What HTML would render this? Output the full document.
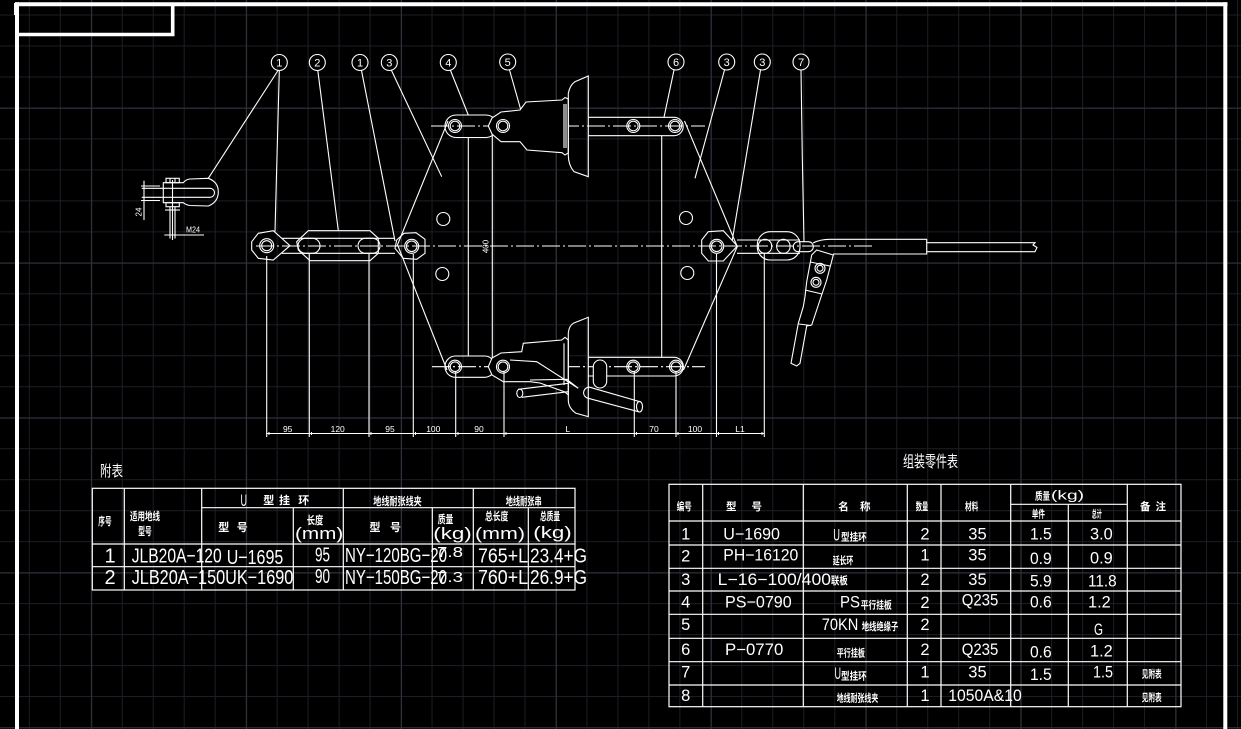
<!DOCTYPE html>
<html><head><meta charset="utf-8">
<style>
html,body{margin:0;padding:0;background:#000;overflow:hidden;}
svg{display:block;}
text{font-family:"Liberation Sans","Noto Sans CJK SC",sans-serif;fill:#fff;}
.c{font-family:"Noto Sans CJK SC","WenQuanYi Zen Hei",sans-serif;font-weight:700;}
.t{font-family:"Noto Sans CJK SC","WenQuanYi Zen Hei",sans-serif;font-weight:400;}
</style></head><body>
<svg width="1241" height="729" viewBox="0 0 1241 729" xmlns="http://www.w3.org/2000/svg">
<defs>
<pattern id="g1" x="28.8" y="14.5" width="30.98" height="30.98" patternUnits="userSpaceOnUse">
<path d="M0 0.5H31M0.5 0V31" stroke="#1d1e26" stroke-width="1" fill="none"/>
</pattern>
<pattern id="g2" x="91.2" y="107.8" width="154.9" height="154.9" patternUnits="userSpaceOnUse">
<path d="M0 0.5H155M0.5 0V155" stroke="#31323d" stroke-width="1" fill="none"/>
</pattern>
</defs>
<rect width="1241" height="729" fill="#000"/>
<rect width="1241" height="729" fill="url(#g1)"/>
<rect width="1241" height="729" fill="url(#g2)"/>

<!-- border -->
<g stroke="#fff" fill="none">
<line x1="15" y1="4.2" x2="1227.5" y2="4.2" stroke-width="4"/>
<line x1="17" y1="2.3" x2="17" y2="729" stroke-width="4"/>
<line x1="1225.3" y1="2.3" x2="1225.3" y2="729" stroke-width="4"/>
<polyline points="17,34.5 172.7,34.5 172.7,4" stroke-width="3.6"/>
</g>
<rect x="14" y="3" width="3" height="12" fill="#fff"/>

<g stroke="#fff" fill="none" stroke-width="1.1">
<!-- centerlines -->
<g stroke-dasharray="18 3 2 3">
<line x1="256" y1="246" x2="873" y2="246"/>
<line x1="431" y1="126" x2="705" y2="126"/>
<line x1="432" y1="366.7" x2="705" y2="366.7"/>
</g>

<!-- balloons -->
<circle cx="279.3" cy="62.5" r="8"/>
<circle cx="317.3" cy="62.5" r="8"/>
<circle cx="360" cy="62.5" r="8"/>
<circle cx="389.3" cy="62.5" r="8"/>
<circle cx="448.3" cy="62.5" r="8"/>
<circle cx="507.7" cy="62" r="8"/>
<circle cx="676" cy="62" r="8"/>
<circle cx="726.7" cy="62" r="8"/>
<circle cx="762.3" cy="62" r="8"/>
<circle cx="801" cy="62" r="8"/>
<!-- leaders -->
<line x1="279.3" y1="70.5" x2="275" y2="231.5"/>
<line x1="278" y1="70.5" x2="208.3" y2="178.3"/>
<line x1="317.8" y1="70.5" x2="338.3" y2="230.5"/>
<line x1="361.5" y1="70.5" x2="395" y2="241"/>
<line x1="391.5" y1="70.5" x2="441.7" y2="176.7"/>
<line x1="450.5" y1="70.5" x2="468.3" y2="115"/>
<line x1="509.5" y1="70" x2="520.7" y2="109.5"/>
<line x1="674" y1="70" x2="664" y2="117.3"/>
<line x1="724.5" y1="70" x2="695" y2="178.3"/>
<line x1="760.5" y1="70" x2="732.3" y2="240"/>
<polyline points="801,70 802.3,157 804,241.7"/>

<!-- plate edges -->
<line x1="397" y1="246" x2="448" y2="121"/>
<line x1="398" y1="246" x2="447" y2="370"/>
<line x1="737" y1="246" x2="684.5" y2="121"/>
<line x1="737.5" y1="246" x2="683.5" y2="370"/>
<!-- plate verticals -->
<line x1="468.3" y1="137.3" x2="468.3" y2="356.5"/>
<line x1="492.3" y1="130" x2="492.3" y2="363"/>
<line x1="661.7" y1="135.7" x2="661.7" y2="357.3"/>
<!-- plate holes -->
<circle cx="443.3" cy="219" r="6.5"/>
<circle cx="442.3" cy="274" r="6.5"/>
<circle cx="686" cy="218" r="6.5"/>
<circle cx="687.3" cy="273" r="6.5"/>

<!-- left U-shackle detail -->
<path d="M163.3,182.7 L183.3,182.7 Q186,179.3 190,179 L208.3,178.3 Q218.3,182 218.3,191.7 Q218.3,202 208.3,206 L190,205.5 Q186,205 183.3,202.7 L163.3,202.7 Z"/>
<path d="M141.7,188.3 L210,188.3 A4.5,4.5 0 0 1 210,197.3 L141.7,197.3"/>
<rect x="166" y="178.3" width="13.3" height="4.4"/>
<line x1="170" y1="178.3" x2="170" y2="182.7"/><line x1="175" y1="178.3" x2="175" y2="182.7"/>
<rect x="166" y="202.7" width="13.3" height="4"/>
<line x1="165" y1="210" x2="180" y2="210"/>
<line x1="170" y1="206.7" x2="170" y2="238.5"/>
<line x1="175" y1="206.7" x2="175" y2="238.5"/>
<line x1="172.5" y1="180" x2="172.5" y2="240"/>
<line x1="144" y1="180.7" x2="144" y2="220"/>
<line x1="141" y1="186" x2="160" y2="186"/>
<line x1="141" y1="200.5" x2="160" y2="200.5"/>
<line x1="164.3" y1="235" x2="204" y2="235"/>

<!-- left pivot -->
<polygon points="251.7,241.7 258.3,233.3 273.3,230.7 290,245.7 273.3,260 258.3,258.3 251.7,250"/>
<circle cx="266.7" cy="245.7" r="7"/>
<circle cx="266.7" cy="245.7" r="5"/>
<line x1="281.7" y1="238.3" x2="395" y2="238.3"/>
<line x1="281.7" y1="253.3" x2="395" y2="253.3"/>
<!-- link 2 -->
<polygon points="296.7,241.7 308.3,230.7 370,230.7 378.3,238.3 378.3,253.3 370,260.7 310,260.7 298.3,250"/>
<rect x="298" y="238.3" width="22" height="15" rx="7.5"/>
<rect x="358" y="238.3" width="22" height="15" rx="7.5"/>
<!-- big left pivot -->
<polygon points="396.7,240 404,233.3 416,232.7 425,239.3 425,253.3 416.7,259.3 403.3,258.3 395,248.3"/>
<circle cx="411.7" cy="246.3" r="7"/>
<circle cx="411.7" cy="246.3" r="5.3"/>

<!-- top assembly -->
<rect x="445" y="115" width="52" height="22.5" rx="11"/>
<circle cx="455" cy="126" r="6.5"/><circle cx="455" cy="126" r="4.8"/>
<path d="M488.3,126 L492,118 L501,112 L520,110 L526,102 L562,100 L565,97.5 L568.3,99 L568.3,153 L565,155 L562,152.7 L527,150 L520,141.7 L501,141.7 L492,134 Z" fill="#000"/>
<circle cx="503" cy="126" r="6.5"/><circle cx="503" cy="126" r="4.8"/>
<path d="M588.3,76 L588.3,176.7 L574,171.7 Q568.3,165 568.3,155 L568.3,93.3 Q570,85 575,81.7 Z"/>
<line x1="564" y1="104" x2="564" y2="148"/>
<line x1="566" y1="104" x2="566" y2="148"/>
<path d="M588.3,117.3 L674,117.3 A9.2,9.2 0 0 1 674,135.7 L588.3,135.7"/>
<circle cx="633.3" cy="126" r="6.5"/><circle cx="633.3" cy="126" r="4.8"/>
<circle cx="675" cy="126" r="6.5"/><circle cx="675" cy="126" r="4.8"/>

<!-- bottom assembly -->
<rect x="445" y="356" width="50" height="21.3" rx="10.5"/>
<circle cx="455" cy="366.7" r="6.5"/><circle cx="455" cy="366.7" r="4.8"/>
<path d="M488.3,366.7 L492,358 L501,353 L521.7,351.7 L523.3,343.3 L561.7,340 L565,337.3 L568.3,340 L568.3,395 L565,392 L540,383 L530,381.7 L503.3,381.7 L492,375 Z" fill="#000"/>
<path d="M510,360 L536.7,361.7 L578.3,388.3 L566.7,379.3 L530,380"/>
<circle cx="503" cy="366.7" r="6.5"/><circle cx="503" cy="366.7" r="4.8"/>
<line x1="518.3" y1="389.3" x2="568.3" y2="383.3"/>
<line x1="521.7" y1="397.3" x2="568.3" y2="391.7"/>
<ellipse cx="519.8" cy="393.3" rx="3" ry="4.2"/>
<path d="M588.3,317.3 L588.3,416.7 L576,413.3 Q568.3,408 568.3,400 L568.3,333 Q569,326 573.3,323.3 Z"/>
<line x1="564" y1="343.3" x2="564" y2="385"/>
<path d="M588.3,357.3 L674,357.3 A9.35,9.35 0 0 1 674,376 L588.3,376"/>
<circle cx="633.3" cy="366.7" r="6.5"/><circle cx="633.3" cy="366.7" r="4.8"/>
<circle cx="676" cy="366.7" r="6.5"/><circle cx="676" cy="366.7" r="4.8"/>
<rect x="593.3" y="360" width="13.4" height="28" rx="6.7" fill="#000"/>
<path d="M590,387.3 L640,401.7 M588.3,398.3 L638.3,411.7 M590,387.3 A5.5,5.5 0 0 0 588.3,398.3"/>
<ellipse cx="639.5" cy="406.7" rx="3" ry="5.3"/>

<!-- right pivot and clamp -->
<polygon points="701.7,240 708.3,231.7 723.3,230.7 737.3,246 723.3,261 708.3,261 701.7,253.3"/>
<circle cx="716.7" cy="246.3" r="7"/>
<circle cx="716.7" cy="246.3" r="5.3"/>
<line x1="737" y1="240" x2="800" y2="240"/>
<line x1="737" y1="253.3" x2="800" y2="253.3"/>
<rect x="757.3" y="231.7" width="42.7" height="28.3" rx="13"/>
<rect x="758.3" y="239.3" width="13.4" height="14" rx="6.7"/>
<rect x="776.7" y="239.3" width="13.4" height="14" rx="6.7"/>
<rect x="793.3" y="241.7" width="20" height="10" rx="5"/>
<path d="M813,243 Q820,239.3 830,239.3 L926.7,239.3 L926.7,254 L833,254"/>
<path d="M926.7,242.7 L1035,242.7 L1033,245 L1037,247.5 L1035,251.7 L926.7,251.7"/>
<polygon points="816.7,250 833.3,255 826.7,280 820,300 811.7,325 806.7,326 800,363.3 796.7,366 791,363.3 798.3,323.3 803.3,306.7 805,296.7 806.7,281.7 811.7,255" fill="#000"/>
<line x1="810" y1="262" x2="830" y2="266"/>
<line x1="805" y1="290" x2="822" y2="294"/>
<line x1="798.5" y1="324" x2="811" y2="325.5"/>
<circle cx="820" cy="268.3" r="5"/><circle cx="820" cy="268.3" r="3"/>
<circle cx="816" cy="282.3" r="5"/><circle cx="816" cy="282.3" r="3"/>

<!-- extension lines -->
<line x1="266.7" y1="256" x2="266.7" y2="437"/>
<line x1="309.3" y1="253" x2="309.3" y2="437"/>
<line x1="369" y1="253" x2="369" y2="437"/>
<line x1="413.3" y1="254" x2="413.3" y2="437"/>
<line x1="455.7" y1="371" x2="455.7" y2="437"/>
<line x1="504" y1="371" x2="504" y2="437"/>
<line x1="634.3" y1="371" x2="634.3" y2="437"/>
<line x1="676" y1="371" x2="676" y2="437"/>
<line x1="716.5" y1="254" x2="716.5" y2="437"/>
<line x1="764.3" y1="253" x2="764.3" y2="437"/>
<line x1="266.7" y1="433.5" x2="764.3" y2="433.5"/>
<g stroke-width="1">
<path d="M269,432v3M311.5,432v3M371,432v3M415.5,432v3M458,432v3M506,432v3M636.5,432v3M678,432v3M718.5,432v3M762,432v3"/>
</g>
</g>

<!-- drawing text -->
<g font-size="11" text-anchor="middle">
<text x="279.3" y="66.5">1</text>
<text x="317.3" y="66.5">2</text>
<text x="360" y="66.5">1</text>
<text x="389.3" y="66.5">3</text>
<text x="448.3" y="66.5">4</text>
<text x="507.7" y="66">5</text>
<text x="676" y="66">6</text>
<text x="726.7" y="66">3</text>
<text x="762.3" y="66">3</text>
<text x="801" y="66">7</text>
</g>
<g font-size="8.5" text-anchor="middle">
<text x="287.7" y="432">95</text>
<text x="337.7" y="432">120</text>
<text x="390" y="432">95</text>
<text x="433.3" y="432">100</text>
<text x="479" y="432">90</text>
<text x="567.7" y="432">L</text>
<text x="654" y="432">70</text>
<text x="695" y="432">100</text>
<text x="740" y="432">L1</text>
</g>
<text font-size="8" text-anchor="middle" transform="translate(488.5,246.5) rotate(-90)">400</text>
<text font-size="8" text-anchor="middle" transform="translate(141.5,212) rotate(-90)">24</text>
<text x="186" y="232.7" font-size="8" textLength="14" lengthAdjust="spacingAndGlyphs">M24</text>

<!-- LEFT TABLE -->
<text class="t" x="100" y="476" font-size="15" textLength="23" lengthAdjust="spacingAndGlyphs">附表</text>
<g stroke="#fff" fill="none" stroke-width="1.2">
<rect x="92.3" y="488.3" width="482.7" height="101.7"/>
<line x1="124.3" y1="488.3" x2="124.3" y2="590"/>
<line x1="201.7" y1="488.3" x2="201.7" y2="590"/>
<line x1="343.3" y1="488.3" x2="343.3" y2="590"/>
<line x1="473.3" y1="488.3" x2="473.3" y2="590"/>
<line x1="293.3" y1="507.7" x2="293.3" y2="590"/>
<line x1="432.3" y1="507.7" x2="432.3" y2="590"/>
<line x1="528.3" y1="507.7" x2="528.3" y2="590"/>
<line x1="201.7" y1="507.7" x2="575" y2="507.7"/>
<line x1="92.3" y1="544" x2="575" y2="544"/>
<line x1="92.3" y1="566.7" x2="575" y2="566.7"/>
</g>
<g class="c" font-size="11">
<text class="c" x="98.3" y="525" textLength="13.3" lengthAdjust="spacingAndGlyphs">序号</text>
<text class="c" x="130" y="520" textLength="30" lengthAdjust="spacingAndGlyphs">适用地线</text>
<text class="c" x="138.3" y="535" textLength="13.4" lengthAdjust="spacingAndGlyphs">型号</text>
<text class="c" x="263.3" y="504">型</text>
<text class="c" x="279" y="504">挂</text>
<text class="c" x="298.3" y="504">环</text>
<text class="c" x="218.3" y="531">型</text>
<text class="c" x="236.7" y="531">号</text>
<text class="c" x="306.7" y="524" textLength="16.6" lengthAdjust="spacingAndGlyphs">长度</text>
<text class="c" x="373.3" y="505" textLength="48.4" lengthAdjust="spacingAndGlyphs">地线耐张线夹</text>
<text class="c" x="369.5" y="531">型</text>
<text class="c" x="390" y="531">号</text>
<text class="c" x="437.7" y="523" textLength="15.6" lengthAdjust="spacingAndGlyphs">质量</text>
<text class="c" x="505.7" y="505" textLength="36" lengthAdjust="spacingAndGlyphs">地线耐张串</text>
<text class="c" x="485" y="520" textLength="23.3" lengthAdjust="spacingAndGlyphs">总长度</text>
<text class="c" x="540" y="520" textLength="20" lengthAdjust="spacingAndGlyphs">总质量</text>
</g>
<text x="240.5" y="506" font-size="17" textLength="6.5" lengthAdjust="spacingAndGlyphs">U</text>
<g font-size="17">
<text x="295" y="539" textLength="48.3" lengthAdjust="spacingAndGlyphs">(mm)</text>
<text x="433.3" y="539" textLength="38.4" lengthAdjust="spacingAndGlyphs">(kg)</text>
<text x="475" y="539" textLength="50" lengthAdjust="spacingAndGlyphs">(mm)</text>
<text x="533.3" y="538" textLength="38.4" lengthAdjust="spacingAndGlyphs">(kg)</text>
</g>
<g font-size="20">
<text x="110" y="562.5" text-anchor="middle">1</text>
<text x="131.7" y="562.5" textLength="90" lengthAdjust="spacingAndGlyphs">JLB20A−120</text>
<text x="226.7" y="564" textLength="56.6" lengthAdjust="spacingAndGlyphs">U−1695</text>
<text x="315" y="561.7" textLength="15" lengthAdjust="spacingAndGlyphs">95</text>
<text x="345" y="562" textLength="102" lengthAdjust="spacingAndGlyphs">NY−120BG−20</text>
<text x="437" y="557" font-size="15" textLength="26" lengthAdjust="spacingAndGlyphs">7.8</text>
<text x="478" y="562.5" textLength="50" lengthAdjust="spacingAndGlyphs">765+L</text>
<text x="530" y="562.5" textLength="57" lengthAdjust="spacingAndGlyphs">23.4+G</text>
<text x="110" y="584" text-anchor="middle">2</text>
<text x="131.7" y="584" textLength="161.6" lengthAdjust="spacingAndGlyphs">JLB20A−150UK−1690</text>
<text x="315" y="583" textLength="15" lengthAdjust="spacingAndGlyphs">90</text>
<text x="345" y="584" textLength="102" lengthAdjust="spacingAndGlyphs">NY−150BG−20</text>
<text x="437" y="582" font-size="15" textLength="26" lengthAdjust="spacingAndGlyphs">7.3</text>
<text x="478" y="584" textLength="50" lengthAdjust="spacingAndGlyphs">760+L</text>
<text x="530" y="584" textLength="57" lengthAdjust="spacingAndGlyphs">26.9+G</text>
</g>

<!-- RIGHT TABLE -->
<text class="t" x="903" y="467" font-size="16" textLength="55" lengthAdjust="spacingAndGlyphs">组装零件表</text>
<g stroke="#fff" fill="none" stroke-width="1.2">
<rect x="669" y="484.3" width="512" height="222.4"/>
<line x1="702.7" y1="484.3" x2="702.7" y2="706.7"/>
<line x1="803.3" y1="484.3" x2="803.3" y2="706.7"/>
<line x1="907.3" y1="484.3" x2="907.3" y2="706.7"/>
<line x1="941" y1="484.3" x2="941" y2="706.7"/>
<line x1="1010.7" y1="484.3" x2="1010.7" y2="706.7"/>
<line x1="1127.3" y1="484.3" x2="1127.3" y2="706.7"/>
<line x1="1068.3" y1="504.3" x2="1068.3" y2="706.7"/>
<line x1="1010.7" y1="504.3" x2="1127.3" y2="504.3"/>
<line x1="669" y1="521" x2="1181" y2="521"/>
<line x1="669" y1="545" x2="1181" y2="545"/>
<line x1="669" y1="568.3" x2="1181" y2="568.3"/>
<line x1="669" y1="591" x2="1181" y2="591"/>
<line x1="669" y1="614.3" x2="1181" y2="614.3"/>
<line x1="669" y1="638.3" x2="1181" y2="638.3"/>
<line x1="669" y1="661.7" x2="1181" y2="661.7"/>
<line x1="669" y1="685" x2="1181" y2="685"/>
</g>
<g font-size="10.5">
<text class="c" x="676.7" y="510" textLength="15" lengthAdjust="spacingAndGlyphs">编号</text>
<text class="c" x="726" y="510">型</text>
<text class="c" x="751.5" y="510">号</text>
<text class="c" x="838.3" y="510">名</text>
<text class="c" x="860" y="510">称</text>
<text class="c" x="915.7" y="510" textLength="12.6" lengthAdjust="spacingAndGlyphs">数量</text>
<text class="c" x="965" y="510" textLength="13.3" lengthAdjust="spacingAndGlyphs">材料</text>
<text class="c" x="1035" y="499.3" textLength="15" lengthAdjust="spacingAndGlyphs">质量</text>
<text class="c" x="1031.7" y="517.3" textLength="13.3" lengthAdjust="spacingAndGlyphs">单件</text>
<text class="c" x="1091.7" y="517.3" textLength="10" lengthAdjust="spacingAndGlyphs">总计</text>
<text class="c" x="1140" y="510">备</text>
<text class="c" x="1155.5" y="510">注</text>
<text class="c" x="841" y="540.7" textLength="25.7" lengthAdjust="spacingAndGlyphs">型挂环</text>
<text class="c" x="832.7" y="564" textLength="20.6" lengthAdjust="spacingAndGlyphs">延长环</text>
<text class="c" x="831" y="584" textLength="16.7" lengthAdjust="spacingAndGlyphs">联板</text>
<text class="c" x="860.7" y="608.3" textLength="31" lengthAdjust="spacingAndGlyphs">平行挂板</text>
<text class="c" x="861.7" y="630" textLength="36.6" lengthAdjust="spacingAndGlyphs">地线绝缘子</text>
<text class="c" x="836.7" y="656.7" textLength="28.3" lengthAdjust="spacingAndGlyphs">平行挂板</text>
<text class="c" x="841" y="679.3" textLength="25.7" lengthAdjust="spacingAndGlyphs">型挂环</text>
<text class="c" x="836.7" y="701.7" textLength="41.6" lengthAdjust="spacingAndGlyphs">地线耐张线夹</text>
<text class="c" x="1141.7" y="677.3" textLength="20" lengthAdjust="spacingAndGlyphs">见附表</text>
<text class="c" x="1141.7" y="701" textLength="20" lengthAdjust="spacingAndGlyphs">见附表</text>
</g>
<text x="1051" y="499.3" font-size="13" textLength="33" lengthAdjust="spacingAndGlyphs">(kg)</text>
<g font-size="16.5">
<text x="685.7" y="539.3" text-anchor="middle">1</text>
<text x="685.7" y="561.7" text-anchor="middle">2</text>
<text x="685.7" y="585" text-anchor="middle">3</text>
<text x="685.7" y="607.3" text-anchor="middle">4</text>
<text x="685.7" y="630" text-anchor="middle">5</text>
<text x="685.7" y="655" text-anchor="middle">6</text>
<text x="685.7" y="677.3" text-anchor="middle">7</text>
<text x="685.7" y="701" text-anchor="middle">8</text>
<text x="723.3" y="539.3" textLength="56.7" lengthAdjust="spacingAndGlyphs">U−1690</text>
<text x="723.3" y="560.7" textLength="75" lengthAdjust="spacingAndGlyphs">PH−16120</text>
<text x="717.7" y="585" textLength="113.3" lengthAdjust="spacingAndGlyphs">L−16−100/400</text>
<text x="725" y="607.3" textLength="66.7" lengthAdjust="spacingAndGlyphs">PS−0790</text>
<text x="725" y="655" textLength="58.3" lengthAdjust="spacingAndGlyphs">P−0770</text>
<text x="833.3" y="540.5" textLength="6.7" lengthAdjust="spacingAndGlyphs">U</text>
<text x="840" y="607.3" textLength="20" lengthAdjust="spacingAndGlyphs">PS</text>
<text x="821.7" y="630" textLength="36.6" lengthAdjust="spacingAndGlyphs">70KN</text>
<text x="834.5" y="679" textLength="6.5" lengthAdjust="spacingAndGlyphs">U</text>
<text x="925" y="539.3" text-anchor="middle">2</text>
<text x="925" y="560.7" text-anchor="middle">1</text>
<text x="925" y="585" text-anchor="middle">2</text>
<text x="925" y="608" text-anchor="middle">2</text>
<text x="925" y="630" text-anchor="middle">2</text>
<text x="925" y="655" text-anchor="middle">2</text>
<text x="925" y="677.3" text-anchor="middle">1</text>
<text x="925" y="701" text-anchor="middle">1</text>
<text x="968.3" y="539.3" textLength="18.4" lengthAdjust="spacingAndGlyphs">35</text>
<text x="968.3" y="560.7" textLength="18.4" lengthAdjust="spacingAndGlyphs">35</text>
<text x="968.3" y="585" textLength="18.4" lengthAdjust="spacingAndGlyphs">35</text>
<text x="961.7" y="605.7" textLength="36.6" lengthAdjust="spacingAndGlyphs">Q235</text>
<text x="961.7" y="655" textLength="36.6" lengthAdjust="spacingAndGlyphs">Q235</text>
<text x="968.3" y="677.3" textLength="18.4" lengthAdjust="spacingAndGlyphs">35</text>
<text x="948.3" y="701" textLength="73.4" lengthAdjust="spacingAndGlyphs">1050A&amp;10</text>
<text x="1030" y="539.3" textLength="21.7" lengthAdjust="spacingAndGlyphs">1.5</text>
<text x="1030" y="564" textLength="21.7" lengthAdjust="spacingAndGlyphs">0.9</text>
<text x="1030" y="586.7" textLength="21.7" lengthAdjust="spacingAndGlyphs">5.9</text>
<text x="1030" y="607.3" textLength="21.7" lengthAdjust="spacingAndGlyphs">0.6</text>
<text x="1030" y="657.3" textLength="21.7" lengthAdjust="spacingAndGlyphs">0.6</text>
<text x="1030" y="680" textLength="21.7" lengthAdjust="spacingAndGlyphs">1.5</text>
<text x="1090" y="539.3" textLength="22.7" lengthAdjust="spacingAndGlyphs">3.0</text>
<text x="1090" y="563.3" textLength="22.7" lengthAdjust="spacingAndGlyphs">0.9</text>
<text x="1088" y="586.7" textLength="28.7" lengthAdjust="spacingAndGlyphs">11.8</text>
<text x="1088" y="607.3" textLength="22.7" lengthAdjust="spacingAndGlyphs">1.2</text>
<text x="1094" y="635" textLength="9" lengthAdjust="spacingAndGlyphs">G</text>
<text x="1090" y="656.7" textLength="22.7" lengthAdjust="spacingAndGlyphs">1.2</text>
<text x="1093" y="677.3" textLength="20" lengthAdjust="spacingAndGlyphs">1.5</text>
</g>
</svg>
</body></html>
